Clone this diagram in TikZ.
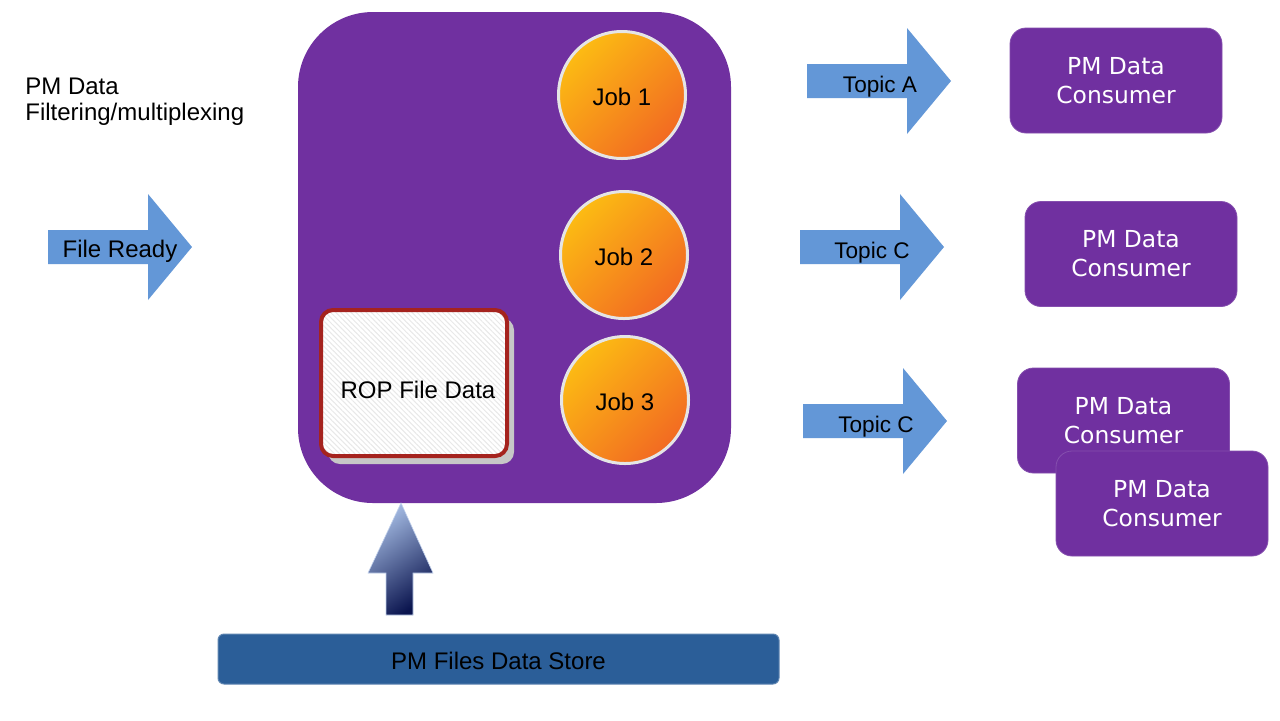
\documentclass[tikz,border=0pt]{standalone}
\usepackage{fontspec}
\setmainfont{Liberation Sans}
\newfontfamily\consumerfont{DejaVu Sans}
\usetikzlibrary{shadows,patterns.meta}
\definecolor{pmpurple}{RGB}{112,48,160}
\definecolor{flowblue}{RGB}{99,151,215}
\definecolor{storeblue}{RGB}{43,94,152}
\definecolor{jobyellow}{RGB}{252,187,19}
\definecolor{joborange}{RGB}{242,106,34}
\definecolor{ropred}{RGB}{165,35,30}
\definecolor{uplight}{RGB}{165,188,228}
\definecolor{upmid}{RGB}{40,64,130}
\definecolor{updark}{RGB}{10,20,78}
\tikzset{
  txt/.style={font=\fontsize{12}{14}\selectfont, text=black, text height=10pt, text depth=0pt},
  flowarrow/.style={fill=flowblue},
  job/.style={circle, minimum size=63.5pt, inner sep=0pt, draw=black!10, line width=1.5pt,
    top color=jobyellow, bottom color=joborange, shading angle=45, txt},
  ropbox/.style={rounded corners=6pt, fill=white,
    minimum width=93pt, minimum height=73pt, txt,
    drop shadow={shadow xshift=3.5pt, shadow yshift=-4pt, fill=black!22, opacity=1},
    postaction={pattern={Lines[angle=-45,distance=1.8pt,line width=0.5pt]}, pattern color=black!9},
    postaction={draw=ropred, line width=2pt}},
  consumer/.style={rounded corners=8pt, fill=pmpurple, draw=pmpurple!85!white, line width=0.4pt,
    minimum width=106pt, minimum height=52.5pt, align=center, text=white,
    font=\consumerfont\fontsize{11.7}{14.5}\selectfont},
}
\begin{document}
\begin{tikzpicture}[x=0.5pt,y=-0.5pt]
  \fill[white] (0,0) rectangle (1280,720);
  \useasboundingbox (0,0) rectangle (1280,720);

  \node[anchor=north west, inner sep=0pt, align=left, font=\fontsize{12}{13}\selectfont]
    (title) at (25,78) {PM Data\\Filtering/multiplexing};

  % fat arrows: tail x / centre y
  \foreach \x/\y in {48/247, 807/81, 800/247, 803/421}
    \fill[flowarrow] (\x,\y) ++(0,-17) -- ++(100,0) -- ++(0,-36) -- ++(44,53)
      -- ++(-44,53) -- ++(0,-36) -- ++(-100,0) -- cycle;
  \node[txt] (ready) at (120,247) {File Ready};
  \node[txt, font=\fontsize{11.3}{13}\selectfont] (topicA) at (880,82) {Topic A};
  \node[txt, font=\fontsize{11.3}{13}\selectfont] (topicC1) at (872,248) {Topic C};
  \node[txt, font=\fontsize{11.3}{13}\selectfont] (topicC2) at (876,422) {Topic C};

  % filtering box
  \node[fill=pmpurple, rounded corners=37.5pt, minimum width=216.5pt, minimum height=245.5pt]
    (filter) at (514.5,257.5) {};
  \node[job] (job1) at (622,95) {Job 1};
  \node[job] (job2) at (624,255) {Job 2};
  \node[job] (job3) at (625,400) {Job 3};
  \node[ropbox, text height=15.6pt] (rop) at (414,383) {\hspace*{4pt}ROP File Data};

  % data store
  \node[fill=storeblue, draw=storeblue!75!white, line width=0.5pt, rounded corners=3pt,
    minimum width=280.5pt, minimum height=25pt, txt] (store) at (498.5,659) {PM Files Data Store};
  \shade[top color=uplight, middle color=upmid, bottom color=updark, shading angle=35,
    draw=uplight!70!white, line width=0.3pt]
    (401,503) -- (433,573) -- (413,573) -- (413,615) -- (386,615) -- (386,573) -- (368,573) -- cycle;

  % consumers
  \node[consumer] (cons1) at (1116,80.5) {PM Data\\Consumer};
  \node[consumer] (cons2) at (1131,254) {PM Data\\Consumer};
  \node[consumer] (cons3) at (1123.5,420.5) {PM Data\\Consumer};
  \node[consumer] (cons4) at (1162,503.5) {PM Data\\Consumer};
\end{tikzpicture}
\end{document}
